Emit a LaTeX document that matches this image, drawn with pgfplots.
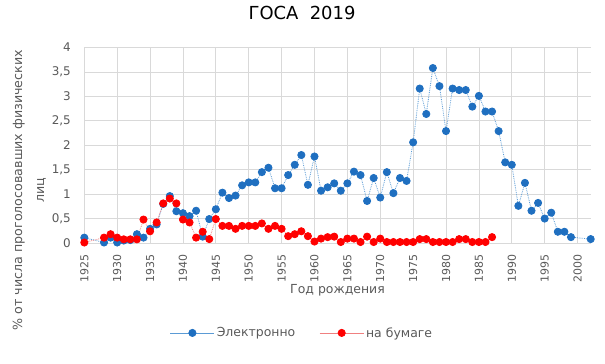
\documentclass[border=0pt]{standalone}
\usepackage{pgfplots}
\pgfplotsset{compat=1.18}
\usepackage{fontspec}
\setmainfont{DejaVu Sans}
\definecolor{elblue}{HTML}{1F6FC0}
\definecolor{elline}{HTML}{5B9BD5}
\definecolor{papred}{HTML}{FF0000}
\definecolor{papline}{HTML}{F08080}
\definecolor{txtgray}{HTML}{595959}
\definecolor{gridgray}{HTML}{D9D9D9}
\begin{document}
\begin{tikzpicture}
\useasboundingbox (0,0) rectangle (605bp,364bp);
\begin{axis}[
  at={(84.3bp,121bp)}, anchor=south west,
  scale only axis, width=506.4bp, height=195.5bp,
  xmin=1925, xmax=2002, ymin=0, ymax=4,
  axis line style={draw=none},
  major tick length=0pt,
  grid=major, major grid style={gridgray, line width=0.8bp},
  xtick={1925,1930,...,2000},
  xticklabels={1925,1930,1935,1940,1945,1950,1955,1960,1965,1970,1975,1980,1985,1990,1995,2000},
  ytick={0,0.5,...,4},
  yticklabels={0,{0,5},1,{1,5},2,{2,5},3,{3,5},4},
  xticklabel style={rotate=90, anchor=east, font=\fontsize{11}{13}\selectfont, text=txtgray},
  yticklabel style={font=\fontsize{12}{14}\selectfont, text=txtgray},
  xticklabel shift=8bp, yticklabel shift=10bp,
  tick label style={/pgf/number format/assume math mode=true},
  xlabel={Год рождения},
  xlabel style={font=\fontsize{12.5}{15}\selectfont, text=txtgray, at={(0.5,0)}, anchor=center, yshift=-47bp},
  ylabel={\% от числа проголосовавших физических\\лиц},
  ylabel style={font=\fontsize{12.7}{22}\selectfont, text=txtgray, align=center, at={(0,0.27)}, anchor=center, yshift=55bp},
  legend columns=2,
  legend style={at={(0.43,-0.46)}, anchor=center, draw=none, fill=none,
    font=\fontsize{12.5}{15}\selectfont, text=txtgray,
    /tikz/every even column/.append style={column sep=22bp},
    inner sep=0pt},
  legend cell align=left,
  legend image code/.code={%
    \draw[#1,solid] (0bp,0bp) -- (44bp,0bp);
    \draw[mark repeat=2,mark phase=2,#1,draw=none] plot coordinates {(0bp,0bp) (22bp,0bp) (44bp,0bp)};
  },
  clip=false,
]
\addplot[elline, line width=0.8bp, densely dotted, mark=*, mark size=3.6bp,
  mark options={solid, fill=elblue, draw=elblue}] coordinates {
(1925,0.11) (1928,0.01) (1929,0.11) (1930,0.01) (1931,0.05) (1932,0.06)
(1933,0.18) (1934,0.11) (1935,0.29) (1936,0.38) (1937,0.80) (1938,0.96)
(1939,0.65) (1940,0.61) (1941,0.55) (1942,0.66) (1943,0.13) (1944,0.49)
(1945,0.69) (1946,1.03) (1947,0.92) (1948,0.97) (1949,1.18) (1950,1.24)
(1951,1.24) (1952,1.45) (1953,1.54) (1954,1.12) (1955,1.12) (1956,1.39)
(1957,1.60) (1958,1.80) (1959,1.19) (1960,1.77) (1961,1.07) (1962,1.14)
(1963,1.22) (1964,1.07) (1965,1.22) (1966,1.46) (1967,1.39) (1968,0.86)
(1969,1.33) (1970,0.93) (1971,1.45) (1972,1.02) (1973,1.33) (1974,1.27)
(1975,2.06) (1976,3.16) (1977,2.64) (1978,3.58) (1979,3.21) (1980,2.29)
(1981,3.16) (1982,3.13) (1983,3.13) (1984,2.79) (1985,3.01) (1986,2.69)
(1987,2.69) (1988,2.29) (1989,1.65) (1990,1.60) (1991,0.76) (1992,1.23)
(1993,0.66) (1994,0.82) (1995,0.50) (1996,0.62) (1997,0.23) (1998,0.23)
(1999,0.12) (2002,0.08)
};
\addlegendentry{Электронно}
\addplot[papline, line width=0.8bp, densely dotted, mark=*, mark size=3.6bp,
  mark options={solid, fill=papred, draw=papred}] coordinates {
(1925,0.01) (1928,0.11) (1929,0.18) (1930,0.11) (1931,0.075) (1932,0.075)
(1933,0.075) (1934,0.48) (1935,0.24) (1936,0.42) (1937,0.81) (1938,0.91)
(1939,0.81) (1940,0.48) (1941,0.42) (1942,0.11) (1943,0.23) (1944,0.08)
(1945,0.49) (1946,0.35) (1947,0.35) (1948,0.29) (1949,0.35) (1950,0.35)
(1951,0.35) (1952,0.40) (1953,0.29) (1954,0.35) (1955,0.29) (1956,0.14)
(1957,0.18) (1958,0.24) (1959,0.14) (1960,0.03) (1961,0.09) (1962,0.12)
(1963,0.13) (1964,0.02) (1965,0.09) (1966,0.09) (1967,0.02) (1968,0.13)
(1969,0.02) (1970,0.09) (1971,0.02) (1972,0.02) (1973,0.02) (1974,0.02)
(1975,0.02) (1976,0.08) (1977,0.08) (1978,0.02) (1979,0.02) (1980,0.02)
(1981,0.02) (1982,0.08) (1983,0.08) (1984,0.02) (1985,0.02) (1986,0.02)
(1987,0.12)
};
\addlegendentry{на бумаге}
\end{axis}
\node[font=\fontsize{18}{20}\selectfont, text=black] at (302bp,351bp) {ГОСА\ \ 2019};
\end{tikzpicture}
\end{document}
